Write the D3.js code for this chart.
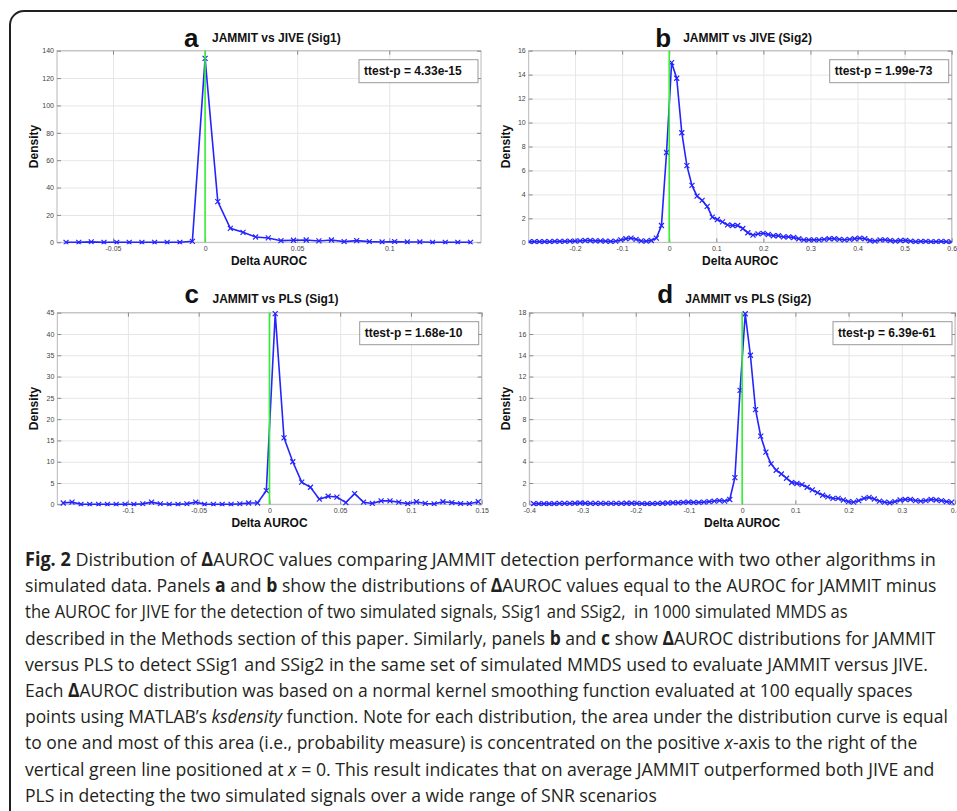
<!DOCTYPE html>
<html lang="en">
<head>
  <meta charset="UTF-8">
  <title>Fig. 2 Distribution of ΔAUROC values</title>
  <script src="https://d3js.org/d3.v7.min.js"></script>
  <style>
    body { margin: 0; background: #fff; }
    #fig text { font-family: "Liberation Sans", Arial, sans-serif; }
    #fig .caption text { font-family: "Open Sans", sans-serif; white-space: pre; fill: #231f20; }
  </style>
</head>
<body>
<svg id="fig" width="957" height="811"></svg>
<script>
// ---- data ----
// panel a: JAMMIT vs JIVE (Sig1)
const xA = [-0.0755, -0.0686, -0.0618, -0.0549, -0.0480, -0.0412, -0.0343, -0.0274, -0.0206, -0.0137, -0.0069,
  0.0000, 0.0069, 0.0137, 0.0206, 0.0274, 0.0343, 0.0412, 0.0480, 0.0549, 0.0618, 0.0686, 0.0755, 0.0823,
  0.0892, 0.0961, 0.1029, 0.1098, 0.1166, 0.1235, 0.1304, 0.1372, 0.1441];
const yA = [0, 0, 0.3, 0, 0, 0, 0, 0, 0, 0, 0.7,
  134.4, 29.7, 10.2, 7.3, 3.9, 3.2, 1.2, 1.5, 1.7, 1.0, 1.7, 0.5, 1.2,
  0.5, 0.2, 0.5, 0.2, 0.2, 0, 0, 0, 0];

// panel b: JAMMIT vs JIVE (Sig2)
const xB = [-0.2973, -0.2865, -0.2757, -0.2649, -0.2541, -0.2433, -0.2325, -0.2217, -0.2109, -0.2001,
  -0.1893, -0.1785, -0.1677, -0.1569, -0.1461, -0.1353, -0.1245, -0.1137, -0.1029, -0.0921,
  -0.0813, -0.0705, -0.0597, -0.0489, -0.0381, -0.0273, -0.0165, -0.0057, 0.0051, 0.0159,
  0.0267, 0.0375, 0.0483, 0.0591, 0.0699, 0.0807, 0.0915, 0.1023, 0.1131, 0.1239,
  0.1347, 0.1455, 0.1563, 0.1671, 0.1779, 0.1887, 0.1995, 0.2103, 0.2211, 0.2319,
  0.2427, 0.2535, 0.2643, 0.2751, 0.2859, 0.2967, 0.3075, 0.3183, 0.3291, 0.3399,
  0.3507, 0.3615, 0.3723, 0.3831, 0.3939, 0.4047, 0.4155, 0.4263, 0.4371, 0.4479,
  0.4587, 0.4695, 0.4803, 0.4911, 0.5019, 0.5127, 0.5235, 0.5343, 0.5451, 0.5559,
  0.5667, 0.5775, 0.5883, 0.5991];
const yB = [0.05, 0.05, 0.05, 0.05, 0.05, 0.08, 0.08, 0.08, 0.1, 0.1,
  0.12, 0.15, 0.15, 0.12, 0.12, 0.1, 0.08, 0.1, 0.2, 0.3,
  0.35, 0.25, 0.12, 0.1, 0.15, 0.35, 1.4, 7.5, 15.0, 13.7,
  9.15, 6.4, 4.75, 3.85, 3.5, 3.0, 2.1, 1.9, 1.7, 1.45,
  1.4, 1.4, 1.15, 0.8, 0.6, 0.7, 0.75, 0.65, 0.55, 0.55,
  0.45, 0.45, 0.4, 0.3, 0.2, 0.2, 0.2, 0.2, 0.25, 0.3,
  0.3, 0.25, 0.2, 0.25, 0.3, 0.35, 0.3, 0.15, 0.1, 0.2,
  0.2, 0.15, 0.1, 0.15, 0.15, 0.1, 0.05, 0.08, 0.08, 0.05,
  0.05, 0.08, 0.05, 0.03];

// panel c: JAMMIT vs PLS (Sig1)
const xC = [-0.1457, -0.1395, -0.1332, -0.1270, -0.1207, -0.1145, -0.1083, -0.1020, -0.0958, -0.0895,
  -0.0833, -0.0771, -0.0708, -0.0646, -0.0583, -0.0521, -0.0459, -0.0396, -0.0334, -0.0271,
  -0.0209, -0.0147, -0.0084, -0.0022, 0.0041, 0.0103, 0.0165, 0.0228, 0.0290, 0.0353,
  0.0415, 0.0477, 0.0540, 0.0602, 0.0665, 0.0727, 0.0789, 0.0852, 0.0914, 0.0977,
  0.1039, 0.1101, 0.1164, 0.1226, 0.1289, 0.1351, 0.1413, 0.1476];
const yC = [0.3, 0.5, 0, 0, 0, 0, 0, 0, 0, 0.1,
  0.5, 0.1, 0, 0, 0.1, 0.5, 0, 0, 0, 0,
  0.1, 0.3, 0.3, 3.2, 44.8, 15.6, 10.0, 5.2, 4.0, 1.2,
  1.9, 1.7, 0.4, 2.5, 0.5, 0.2, 0.8, 0.8, 0.5, 0.15,
  0.6, 0.2, 0.1, 0.6, 0.4, 0.15, 0.15, 0.6];

// panel d: JAMMIT vs PLS (Sig2)
const xD = [-0.3919, -0.3822, -0.3725, -0.3628, -0.3531, -0.3434, -0.3337, -0.3240, -0.3143, -0.3046,
  -0.2949, -0.2852, -0.2755, -0.2658, -0.2561, -0.2464, -0.2367, -0.2270, -0.2173, -0.2076,
  -0.1979, -0.1882, -0.1785, -0.1688, -0.1591, -0.1494, -0.1397, -0.1300, -0.1203, -0.1106,
  -0.1009, -0.0912, -0.0815, -0.0718, -0.0621, -0.0524, -0.0427, -0.0330, -0.0233, -0.0136,
  -0.0039, 0.0058, 0.0155, 0.0252, 0.0349, 0.0446, 0.0543, 0.0640, 0.0737, 0.0834,
  0.0931, 0.1028, 0.1125, 0.1222, 0.1319, 0.1416, 0.1513, 0.1610, 0.1707, 0.1804,
  0.1901, 0.1998, 0.2095, 0.2192, 0.2289, 0.2386, 0.2483, 0.2580, 0.2677, 0.2774,
  0.2871, 0.2968, 0.3065, 0.3162, 0.3259, 0.3356, 0.3453, 0.3550, 0.3647, 0.3744,
  0.3841, 0.3938];
const yD = [0.05, 0.05, 0.05, 0.05, 0.05, 0.08, 0.08, 0.08, 0.1, 0.12,
  0.1, 0.08, 0.08, 0.08, 0.08, 0.08, 0.08, 0.08, 0.1, 0.1,
  0.08, 0.06, 0.05, 0.06, 0.08, 0.1, 0.12, 0.15, 0.15, 0.18,
  0.2, 0.18, 0.18, 0.2, 0.25, 0.3, 0.35, 0.3, 0.45, 2.5,
  10.7, 17.9, 14.0, 8.9, 6.4, 4.9, 3.8, 3.2, 2.85, 2.45,
  2.05, 1.95, 1.85, 1.6, 1.35, 1.1, 0.85, 0.7, 0.55, 0.55,
  0.4, 0.25, 0.2, 0.35, 0.55, 0.65, 0.5, 0.3, 0.2, 0.15,
  0.25, 0.4, 0.45, 0.45, 0.35, 0.3, 0.35, 0.45, 0.4, 0.35,
  0.25, 0.2];

// axis limits and ticks
const xLimA = [-0.0804, 0.1498], yLimA = [0, 140];
const xTicksA = [-0.05, 0, 0.05, 0.1];
const yTicksA = [0, 20, 40, 60, 80, 100, 120, 140];
const xLimB = [-0.2985, 0.6], yLimB = [0, 16];
const xTicksB = [-0.2, -0.1, 0, 0.1, 0.2, 0.3, 0.4, 0.5, 0.6];
const yTicksB = [0, 2, 4, 6, 8, 10, 12, 14, 16];
const xLimC = [-0.1499, 0.15], yLimC = [0, 45];
const xTicksC = [-0.1, -0.05, 0, 0.05, 0.1, 0.15];
const yTicksC = [0, 5, 10, 15, 20, 25, 30, 35, 40, 45];
const xLimD = [-0.4, 0.4], yLimD = [0, 18];
const xTicksD = [-0.4, -0.3, -0.2, -0.1, 0, 0.1, 0.2, 0.3, 0.4];
const yTicksD = [0, 2, 4, 6, 8, 10, 12, 14, 16, 18];

const panelLetters = ["a", "b", "c", "d"];
const panelTitles = ["JAMMIT vs JIVE (Sig1)", "JAMMIT vs JIVE (Sig2)", "JAMMIT vs PLS (Sig1)", "JAMMIT vs PLS (Sig2)"];
const pValues = ["4.33e-15", "1.99e-73", "1.68e-10", "6.39e-61"];

const captionLines = [
  [["Fig. 2", "b"], [" Distribution of ", ""], ["Δ", "b"], ["AUROC values comparing JAMMIT detection performance with two other algorithms in", ""]],
  [["simulated data. Panels ", ""], ["a", "b"], [" and ", ""], ["b", "b"], [" show the distributions of ", ""], ["Δ", "b"], ["AUROC values equal to the AUROC for JAMMIT minus", ""]],
  [["the AUROC for JIVE for the detection of two simulated signals, SSig1 and SSig2,  in 1000 simulated MMDS as", ""]],
  [["described in the Methods section of this paper. Similarly, panels ", ""], ["b", "b"], [" and ", ""], ["c", "b"], [" show ", ""], ["Δ", "b"], ["AUROC distributions for JAMMIT", ""]],
  [["versus PLS to detect SSig1 and SSig2 in the same set of simulated MMDS used to evaluate JAMMIT versus JIVE.", ""]],
  [["Each ", ""], ["Δ", "b"], ["AUROC distribution was based on a normal kernel smoothing function evaluated at 100 equally spaces", ""]],
  [["points using MATLAB’s ", ""], ["ksdensity", "i"], [" function. Note for each distribution, the area under the distribution curve is equal", ""]],
  [["to one and most of this area (i.e., probability measure) is concentrated on the positive ", ""], ["x", "i"], ["-axis to the right of the", ""]],
  [["vertical green line positioned at ", ""], ["x", "i"], [" = 0. This result indicates that on average JAMMIT outperformed both JIVE and", ""]],
  [["PLS in detecting the two simulated signals over a wide range of SNR scenarios", ""]]
];
// right end of each caption line in the reference
const captionEnds = [937, 937, 848, 936, 929, 913, 948, 918, 935, 657];

// ---- layout ----
const boxes = [
  {left: 57, right: 481, top: 50.7, bottom: 242.3, letterY: 46.5, titleY: 41.8},
  {left: 528.7, right: 951.7, top: 50.7, bottom: 242.3, letterY: 46.5, titleY: 41.8},
  {left: 57.3, right: 481.7, top: 312.7, bottom: 504.3, letterY: 303.3, titleY: 302.8},
  {left: 529.3, right: 955, top: 312.7, bottom: 504.3, letterY: 303.3, titleY: 302.8}
];

const panels = [
  {xs: xA, ys: yA, xlim: xLimA, ylim: yLimA, xticks: xTicksA, yticks: yTicksA},
  {xs: xB, ys: yB, xlim: xLimB, ylim: yLimB, xticks: xTicksB, yticks: yTicksB},
  {xs: xC, ys: yC, xlim: xLimC, ylim: yLimC, xticks: xTicksC, yticks: yTicksC},
  {xs: xD, ys: yD, xlim: xLimD, ylim: yLimD, xticks: xTicksD, yticks: yTicksD}
];

const svg = d3.select("#fig");

// outer frame with rounded corner
svg.append("rect")
  .attr("x", 10).attr("y", 11).attr("width", 1000).attr("height", 1000).attr("rx", 14)
  .attr("fill", "none").attr("stroke", "#231f20").attr("stroke-width", 2);

panels.forEach((p, i) => {
  const b = boxes[i];
  const w = b.right - b.left, h = b.bottom - b.top;
  const x = d3.scaleLinear().domain(p.xlim).range([b.left, b.right]);
  const y = d3.scaleLinear().domain(p.ylim).range([b.bottom, b.top]);
  const g = svg.append("g");

  // grid
  g.append("g").attr("transform", `translate(0,${b.bottom})`)
    .call(d3.axisBottom(x).tickValues(p.xticks).tickSize(-h).tickFormat(""))
    .call(s => s.select(".domain").remove())
    .call(s => s.selectAll("line").attr("stroke", "#e6e6e6"));
  g.append("g").attr("transform", `translate(${b.left},0)`)
    .call(d3.axisLeft(y).tickValues(p.yticks).tickSize(-w).tickFormat(""))
    .call(s => s.select(".domain").remove())
    .call(s => s.selectAll("line").attr("stroke", "#e6e6e6"));

  // box
  g.append("rect").attr("x", b.left).attr("y", b.top).attr("width", w).attr("height", h)
    .attr("fill", "none").attr("stroke", "#b8b8b8");

  // ticks + labels
  const styleAxis = s => {
    s.select(".domain").remove();
    s.selectAll("line").attr("stroke", "#8a8a8a");
    s.selectAll("text").attr("font-size", 7).attr("fill", "#444");
  };
  g.append("g").attr("transform", `translate(0,${b.bottom})`)
    .call(d3.axisBottom(x).tickValues(p.xticks).tickSizeInner(-4).tickSizeOuter(0).tickPadding(4).tickFormat(d => String(d)))
    .call(styleAxis);
  g.append("g").attr("transform", `translate(0,${b.top})`)
    .call(d3.axisTop(x).tickValues(p.xticks).tickSizeInner(-4).tickSizeOuter(0).tickFormat(""))
    .call(styleAxis);
  g.append("g").attr("transform", `translate(${b.left},0)`)
    .call(d3.axisLeft(y).tickValues(p.yticks).tickSizeInner(-4).tickSizeOuter(0).tickPadding(3).tickFormat(d => String(d)))
    .call(styleAxis);
  g.append("g").attr("transform", `translate(${b.right},0)`)
    .call(d3.axisRight(y).tickValues(p.yticks).tickSizeInner(-4).tickSizeOuter(0).tickFormat(""))
    .call(styleAxis);

  // data
  const clipId = "clip" + i;
  g.append("clipPath").attr("id", clipId)
    .append("rect").attr("x", b.left).attr("y", b.top - 2).attr("width", w).attr("height", h + 4);
  const pts = p.xs.map((v, k) => [v, p.ys[k]]);
  const plot = g.append("g").attr("clip-path", `url(#${clipId})`);
  plot.append("path")
    .attr("d", d3.line().x(d => x(d[0])).y(d => y(d[1]))(pts))
    .attr("fill", "none").attr("stroke", "#2424ff").attr("stroke-width", 1.6);
  plot.selectAll(".mk").data(pts).join("path").attr("class", "mk")
    .attr("transform", d => `translate(${x(d[0])},${y(d[1])})`)
    .attr("d", d3.symbol(d3.symbolX, 18))
    .attr("fill", "none").attr("stroke", "#2424ff").attr("stroke-width", 1.2);

  // zero line
  g.append("line")
    .attr("x1", x(0)).attr("x2", x(0)).attr("y1", b.top).attr("y2", b.bottom)
    .attr("stroke", "#33ee33").attr("stroke-width", 1.6);

  // p-value box
  const lg = g.append("g").attr("transform", `translate(${b.right - 122},${b.top + 9})`);
  lg.append("rect").attr("width", 119).attr("height", 23)
    .attr("fill", "#fff").attr("stroke", "#999");
  lg.append("text").attr("x", 5).attr("y", 15.5)
    .attr("font-size", 12).attr("font-weight", "bold").attr("fill", "#111")
    .text("ttest-p = " + pValues[i]);

  // titles
  const cx = (b.left + b.right) / 2;
  g.append("text").attr("x", cx - 85).attr("y", b.letterY)
    .attr("font-size", 26).attr("font-weight", "bold").attr("fill", "#111")
    .text(panelLetters[i]);
  g.append("text").attr("x", cx - 57).attr("y", b.titleY)
    .attr("font-size", 12).attr("font-weight", "bold").attr("fill", "#111")
    .text(panelTitles[i]);

  // axis labels
  g.append("text").attr("x", cx).attr("y", b.bottom + 22.5).attr("text-anchor", "middle")
    .attr("font-size", 12).attr("font-weight", "bold").attr("fill", "#111")
    .text("Delta AUROC");
  g.append("text")
    .attr("transform", `translate(${b.left - 19},${(b.top + b.bottom) / 2}) rotate(-90)`)
    .attr("text-anchor", "middle")
    .attr("font-size", 12).attr("font-weight", "bold").attr("fill", "#111")
    .text("Density");
});

// caption
const cap = svg.append("g").attr("class", "caption");
const capX = 25, capY0 = 566, capStep = 26.2;
captionLines.forEach((segs, i) => {
  const t = cap.append("text").attr("font-size", 19).attr("x", 0).attr("y", 0);
  segs.forEach(([txt, st]) => {
    t.append("tspan").text(txt)
      .attr("font-weight", st === "b" ? "bold" : null)
      .attr("font-style", st === "i" ? "italic" : null);
  });
  const natural = t.node().getComputedTextLength();
  const sx = (captionEnds[i] - capX) / natural;
  t.attr("transform", `translate(${capX},${capY0 + i * capStep}) scale(${sx},1)`);
});
</script>
</body>
</html>
